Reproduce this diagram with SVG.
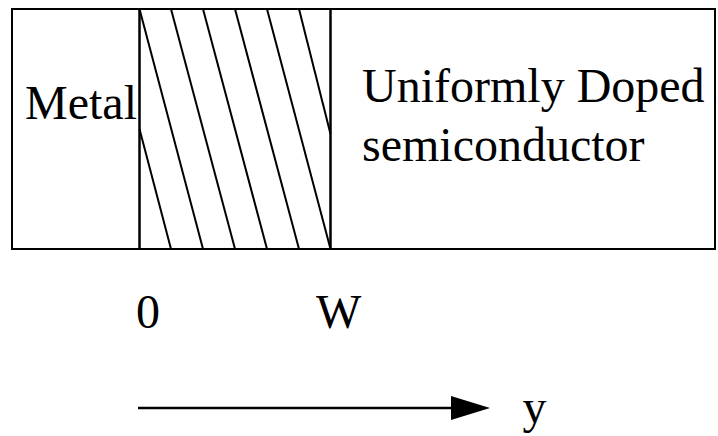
<svg xmlns="http://www.w3.org/2000/svg" width="718" height="436" viewBox="0 0 718 436">
<defs>
<style>
.t{font-family:"Liberation Serif","Times New Roman",serif;font-size:48px;fill:#000}
.s{stroke:#000;stroke-width:2;fill:none}
.h{stroke:#000;stroke-width:2;fill:none}
</style>
<marker id="ah" markerUnits="userSpaceOnUse" markerWidth="40" markerHeight="24" refX="0" refY="12" orient="auto" viewBox="0 0 40 24">
<polygon points="0,0 39,12 0,24" fill="#000"/>
</marker>
</defs>
<rect width="718" height="436" fill="#fff"/>
<g id="metal">
<rect class="s" x="12" y="9" width="127.5" height="240"/>
<text class="t" x="25" y="119">Metal</text>
</g>
<g id="depletion">
<rect class="s" x="139.5" y="9" width="191" height="240"/>
<g class="h">
<line x1="139.5" y1="9" x2="203" y2="249"/>
<line x1="171" y1="9" x2="235" y2="249"/>
<line x1="203" y1="9" x2="267" y2="249"/>
<line x1="235" y1="9" x2="299" y2="249"/>
<line x1="267" y1="9" x2="330.5" y2="249"/>
<line x1="299" y1="9" x2="330.5" y2="134"/>
<line x1="139.5" y1="129" x2="171" y2="249"/>
</g>
</g>
<g id="semiconductor">
<rect class="s" x="330.5" y="9" width="384.5" height="240"/>
<text class="t" x="362" y="102">Uniformly Doped</text>
<text class="t" x="362" y="161">semiconductor</text>
</g>
<g id="label-0"><text class="t" x="136" y="328">0</text></g>
<g id="label-W"><text class="t" x="316" y="328">W</text></g>
<g id="label-y"><text class="t" x="522.5" y="423">y</text></g>
<g id="connectors">
<line x1="138" y1="408" x2="451" y2="408" stroke="#000" stroke-width="2.5" marker-end="url(#ah)"/>
</g>
</svg>
